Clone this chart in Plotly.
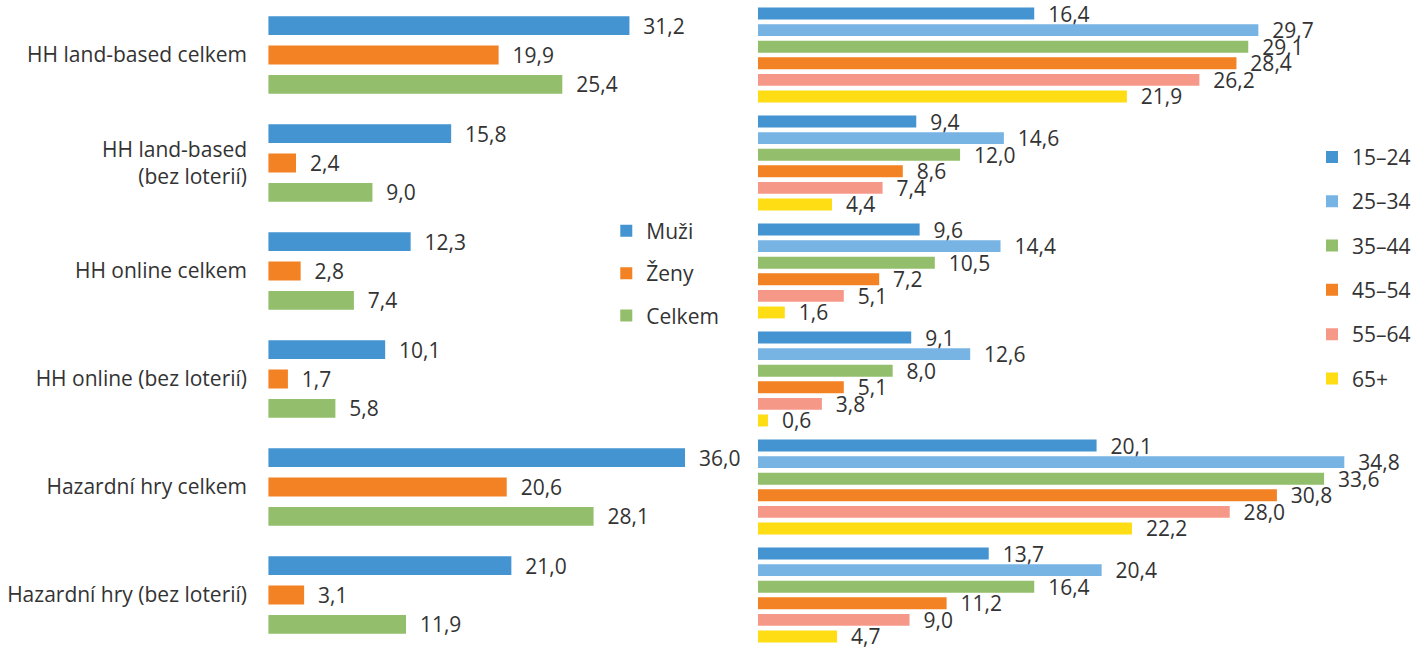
import plotly.graph_objects as go

categories = [
    "HH land-based celkem",
    "HH land-based<br>(bez loterií)",
    "HH online celkem",
    "HH online (bez loterií)",
    "Hazardní hry celkem",
    "Hazardní hry (bez loterií)",
]

gender_names = ["Muži", "Ženy", "Celkem"]
muzi = [31.2, 15.8, 12.3, 10.1, 36.0, 21.0]
zeny = [19.9, 2.4, 2.8, 1.7, 20.6, 3.1]
celkem = [25.4, 9.0, 7.4, 5.8, 28.1, 11.9]

age_names = ["15–24", "25–34", "35–44", "45–54", "55–64", "65+"]
age_15_24 = [16.4, 9.4, 9.6, 9.1, 20.1, 13.7]
age_25_34 = [29.7, 14.6, 14.4, 12.6, 34.8, 20.4]
age_35_44 = [29.1, 12.0, 10.5, 8.0, 33.6, 16.4]
age_45_54 = [28.4, 8.6, 7.2, 5.1, 30.8, 11.2]
age_55_64 = [26.2, 7.4, 5.1, 3.8, 28.0, 9.0]
age_65 = [21.9, 4.4, 1.6, 0.6, 22.2, 4.7]

gender_colors = ["#4394d0", "#f28223", "#93be6b"]
age_colors = ["#4394d0", "#77b4e4", "#93be6b", "#f28223", "#f69888", "#fedd15"]

FONT = "Open Sans"
TXT = "#333333"
FS = 21

fig = go.Figure()

gender_series = [muzi, zeny, celkem]
w_l, step_l = 0.175, 0.272
for i, (name, vals, col) in enumerate(zip(gender_names, gender_series, gender_colors)):
    fig.add_trace(go.Bar(
        y=categories, x=vals, orientation="h", name=name,
        marker=dict(color=col, line=dict(width=0)),
        width=w_l, offset=(i - 1) * step_l - w_l / 2,
        texttemplate="  %{x:.1f}", textposition="outside",
        constraintext="none", cliponaxis=False,
        textfont=dict(family=FONT, size=FS, color=TXT),
        xaxis="x", yaxis="y", legend="legend", legendgroup=name,
    ))

age_series = [age_15_24, age_25_34, age_35_44, age_45_54, age_55_64, age_65]
w_r, step_r = 0.11, 0.1535
for j, (name, vals, col) in enumerate(zip(age_names, age_series, age_colors)):
    fig.add_trace(go.Bar(
        y=categories, x=vals, orientation="h", name=name,
        marker=dict(color=col, line=dict(width=0)),
        width=w_r, offset=(j - 2.5) * step_r - w_r / 2,
        texttemplate="  %{x:.1f}", textposition="outside",
        constraintext="none", cliponaxis=False,
        textfont=dict(family=FONT, size=FS, color=TXT),
        xaxis="x2", yaxis="y2", legend="legend2", legendgroup="a" + name,
    ))

W, H = 1416, 649
fig.update_layout(
    width=W, height=H,
    margin=dict(l=0, r=0, t=1, b=0),
    paper_bgcolor="white", plot_bgcolor="white",
    barmode="overlay",
    separators=", ",
    font=dict(family=FONT, size=FS, color=TXT),
    xaxis=dict(domain=[269 / W, 751 / W], range=[0, (751 - 269) / 11.61],
               visible=False, fixedrange=True),
    xaxis2=dict(domain=[760 / W, 1.0], range=[0, (W - 760) / 16.9],
                visible=False, fixedrange=True),
    yaxis=dict(anchor="x", range=[5.5, -0.5], showgrid=False, zeroline=False,
               showline=False, ticks="outside", ticklen=16,
               tickcolor="rgba(0,0,0,0)",
               tickfont=dict(family=FONT, size=FS, color=TXT)),
    yaxis2=dict(anchor="x2", range=[5.5, -0.5], showgrid=False, zeroline=False,
                showline=False, showticklabels=False, matches="y"),
    legend=dict(x=608 / W, y=1 - 210 / H, xanchor="left", yanchor="top",
                bgcolor="rgba(0,0,0,0)", font=dict(family=FONT, size=FS, color=TXT),
                tracegroupgap=12, traceorder="grouped"),
    legend2=dict(x=1316 / W, y=1 - 136 / H, xanchor="left", yanchor="top",
                 bgcolor="rgba(0,0,0,0)", font=dict(family=FONT, size=FS, color=TXT),
                 tracegroupgap=14, traceorder="grouped"),
    showlegend=True,
)

fig.write_html("out.html")
